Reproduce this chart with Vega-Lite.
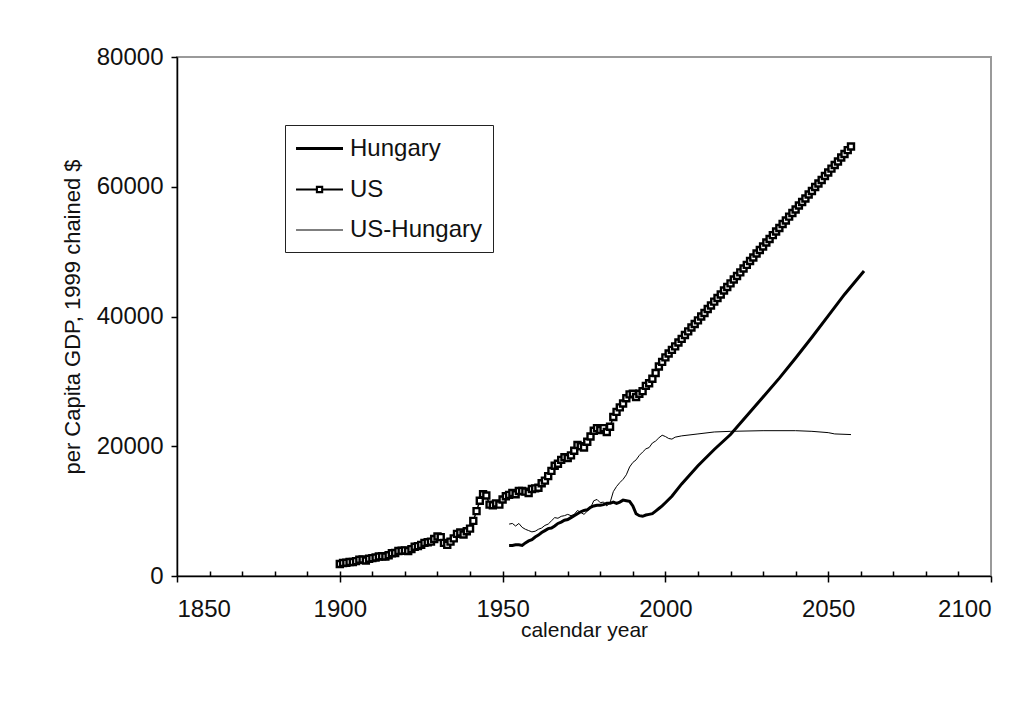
{
  "$schema": "https://vega.github.io/schema/vega-lite/v6.json",
  "width": 814,
  "height": 519,
  "autosize": "none",
  "padding": {"left": 177, "top": 57, "right": 38, "bottom": 143},
  "background": "white",
  "config": {
    "view": {"stroke": "#9a9a9a", "strokeWidth": 2},
    "font": "Liberation Sans",
    "axis": {"domainColor": "black", "tickColor": "black", "labelColor": "#111111", "titleColor": "#111111", "labelFont": "Liberation Sans", "titleFont": "Liberation Sans", "titleFontWeight": "normal", "grid": false}
  },
  "data": {"values": [
    {"series":"US","year":1900,"gdp":1850},{"series":"US","year":1901,"gdp":2000},{"series":"US","year":1902,"gdp":2050},{"series":"US","year":1903,"gdp":2150},{"series":"US","year":1904,"gdp":2150},{"series":"US","year":1905,"gdp":2300},{"series":"US","year":1906,"gdp":2500},{"series":"US","year":1907,"gdp":2550},{"series":"US","year":1908,"gdp":2400},{"series":"US","year":1909,"gdp":2650},
    {"series":"US","year":1910,"gdp":2750},{"series":"US","year":1911,"gdp":2850},{"series":"US","year":1912,"gdp":3000},{"series":"US","year":1913,"gdp":3050},{"series":"US","year":1914,"gdp":3000},{"series":"US","year":1915,"gdp":3200},{"series":"US","year":1916,"gdp":3500},{"series":"US","year":1917,"gdp":3550},{"series":"US","year":1918,"gdp":3850},{"series":"US","year":1919,"gdp":3900},
    {"series":"US","year":1920,"gdp":3950},{"series":"US","year":1921,"gdp":3850},{"series":"US","year":1922,"gdp":4150},{"series":"US","year":1923,"gdp":4500},{"series":"US","year":1924,"gdp":4600},{"series":"US","year":1925,"gdp":4800},{"series":"US","year":1926,"gdp":5100},{"series":"US","year":1927,"gdp":5200},{"series":"US","year":1928,"gdp":5300},{"series":"US","year":1929,"gdp":5700},
    {"series":"US","year":1930,"gdp":6100},{"series":"US","year":1931,"gdp":6000},{"series":"US","year":1932,"gdp":5100},{"series":"US","year":1933,"gdp":4800},{"series":"US","year":1934,"gdp":5300},{"series":"US","year":1935,"gdp":5800},{"series":"US","year":1936,"gdp":6500},{"series":"US","year":1937,"gdp":6700},{"series":"US","year":1938,"gdp":6400},{"series":"US","year":1939,"gdp":6900},
    {"series":"US","year":1940,"gdp":7300},{"series":"US","year":1941,"gdp":8500},{"series":"US","year":1942,"gdp":10000},{"series":"US","year":1943,"gdp":11600},{"series":"US","year":1944,"gdp":12600},{"series":"US","year":1945,"gdp":12400},{"series":"US","year":1946,"gdp":11000},{"series":"US","year":1947,"gdp":10900},{"series":"US","year":1948,"gdp":11200},{"series":"US","year":1949,"gdp":11000},
    {"series":"US","year":1950,"gdp":11800},{"series":"US","year":1951,"gdp":12300},{"series":"US","year":1952,"gdp":12500},{"series":"US","year":1953,"gdp":12800},{"series":"US","year":1954,"gdp":12600},{"series":"US","year":1955,"gdp":13100},{"series":"US","year":1956,"gdp":13100},{"series":"US","year":1957,"gdp":13000},{"series":"US","year":1958,"gdp":12800},{"series":"US","year":1959,"gdp":13400},
    {"series":"US","year":1960,"gdp":13500},{"series":"US","year":1961,"gdp":13600},{"series":"US","year":1962,"gdp":14300},{"series":"US","year":1963,"gdp":14700},{"series":"US","year":1964,"gdp":15400},{"series":"US","year":1965,"gdp":16200},{"series":"US","year":1966,"gdp":17000},{"series":"US","year":1967,"gdp":17300},{"series":"US","year":1968,"gdp":17900},{"series":"US","year":1969,"gdp":18300},
    {"series":"US","year":1970,"gdp":18200},{"series":"US","year":1971,"gdp":18600},{"series":"US","year":1972,"gdp":19300},{"series":"US","year":1973,"gdp":20200},{"series":"US","year":1974,"gdp":20000},{"series":"US","year":1975,"gdp":19800},{"series":"US","year":1976,"gdp":20700},{"series":"US","year":1977,"gdp":21500},{"series":"US","year":1978,"gdp":22400},{"series":"US","year":1979,"gdp":22800},
    {"series":"US","year":1980,"gdp":22500},{"series":"US","year":1981,"gdp":22800},{"series":"US","year":1982,"gdp":22200},{"series":"US","year":1983,"gdp":23000},{"series":"US","year":1984,"gdp":24500},{"series":"US","year":1985,"gdp":25300},{"series":"US","year":1986,"gdp":26000},{"series":"US","year":1987,"gdp":26600},{"series":"US","year":1988,"gdp":27400},{"series":"US","year":1989,"gdp":28000},
    {"series":"US","year":1990,"gdp":28100},{"series":"US","year":1991,"gdp":27600},{"series":"US","year":1992,"gdp":28100},{"series":"US","year":1993,"gdp":28500},{"series":"US","year":1994,"gdp":29300},{"series":"US","year":1995,"gdp":29700},{"series":"US","year":1996,"gdp":30400},{"series":"US","year":1997,"gdp":31300},{"series":"US","year":1998,"gdp":32300},{"series":"US","year":1999,"gdp":33000},
    {"series":"US","year":2000,"gdp":33700},{"series":"US","year":2001,"gdp":34300},{"series":"US","year":2002,"gdp":34850},{"series":"US","year":2003,"gdp":35400},{"series":"US","year":2004,"gdp":36000},{"series":"US","year":2005,"gdp":36550},{"series":"US","year":2006,"gdp":37150},{"series":"US","year":2007,"gdp":37700},{"series":"US","year":2008,"gdp":38300},{"series":"US","year":2009,"gdp":38850},
    {"series":"US","year":2010,"gdp":39400},{"series":"US","year":2011,"gdp":40000},{"series":"US","year":2012,"gdp":40550},{"series":"US","year":2013,"gdp":41150},{"series":"US","year":2014,"gdp":41700},{"series":"US","year":2015,"gdp":42300},{"series":"US","year":2016,"gdp":42850},{"series":"US","year":2017,"gdp":43400},{"series":"US","year":2018,"gdp":44000},{"series":"US","year":2019,"gdp":44550},
    {"series":"US","year":2020,"gdp":45100},{"series":"US","year":2021,"gdp":45700},{"series":"US","year":2022,"gdp":46250},{"series":"US","year":2023,"gdp":46800},{"series":"US","year":2024,"gdp":47400},{"series":"US","year":2025,"gdp":47950},{"series":"US","year":2026,"gdp":48550},{"series":"US","year":2027,"gdp":49100},{"series":"US","year":2028,"gdp":49700},{"series":"US","year":2029,"gdp":50250},
    {"series":"US","year":2030,"gdp":50800},{"series":"US","year":2031,"gdp":51400},{"series":"US","year":2032,"gdp":51950},{"series":"US","year":2033,"gdp":52550},{"series":"US","year":2034,"gdp":53100},{"series":"US","year":2035,"gdp":53650},{"series":"US","year":2036,"gdp":54250},{"series":"US","year":2037,"gdp":54800},{"series":"US","year":2038,"gdp":55400},{"series":"US","year":2039,"gdp":55950},
    {"series":"US","year":2040,"gdp":56500},{"series":"US","year":2041,"gdp":57100},{"series":"US","year":2042,"gdp":57650},{"series":"US","year":2043,"gdp":58200},{"series":"US","year":2044,"gdp":58800},{"series":"US","year":2045,"gdp":59350},{"series":"US","year":2046,"gdp":59950},{"series":"US","year":2047,"gdp":60500},{"series":"US","year":2048,"gdp":61050},{"series":"US","year":2049,"gdp":61650},
    {"series":"US","year":2050,"gdp":62200},{"series":"US","year":2051,"gdp":62800},{"series":"US","year":2052,"gdp":63350},{"series":"US","year":2053,"gdp":63900},{"series":"US","year":2054,"gdp":64500},{"series":"US","year":2055,"gdp":65050},{"series":"US","year":2056,"gdp":65650},{"series":"US","year":2057,"gdp":66200},
    {"series":"Hungary","year":1952,"gdp":4700},{"series":"Hungary","year":1953,"gdp":4700},{"series":"Hungary","year":1954,"gdp":4800},{"series":"Hungary","year":1955,"gdp":4800},{"series":"Hungary","year":1956,"gdp":4700},{"series":"Hungary","year":1957,"gdp":5100},{"series":"Hungary","year":1958,"gdp":5400},{"series":"Hungary","year":1959,"gdp":5600},
    {"series":"Hungary","year":1960,"gdp":6000},{"series":"Hungary","year":1961,"gdp":6300},{"series":"Hungary","year":1962,"gdp":6700},{"series":"Hungary","year":1963,"gdp":7000},{"series":"Hungary","year":1964,"gdp":7300},{"series":"Hungary","year":1965,"gdp":7400},{"series":"Hungary","year":1966,"gdp":7700},{"series":"Hungary","year":1967,"gdp":8100},{"series":"Hungary","year":1968,"gdp":8300},{"series":"Hungary","year":1969,"gdp":8600},
    {"series":"Hungary","year":1970,"gdp":8700},{"series":"Hungary","year":1971,"gdp":9000},{"series":"Hungary","year":1972,"gdp":9300},{"series":"Hungary","year":1973,"gdp":9600},{"series":"Hungary","year":1974,"gdp":9900},{"series":"Hungary","year":1975,"gdp":10100},{"series":"Hungary","year":1976,"gdp":10200},{"series":"Hungary","year":1977,"gdp":10600},{"series":"Hungary","year":1978,"gdp":10800},{"series":"Hungary","year":1979,"gdp":10900},
    {"series":"Hungary","year":1980,"gdp":10900},{"series":"Hungary","year":1981,"gdp":11000},{"series":"Hungary","year":1982,"gdp":11200},{"series":"Hungary","year":1983,"gdp":11200},{"series":"Hungary","year":1984,"gdp":11400},{"series":"Hungary","year":1985,"gdp":11200},{"series":"Hungary","year":1986,"gdp":11400},{"series":"Hungary","year":1987,"gdp":11700},{"series":"Hungary","year":1988,"gdp":11600},{"series":"Hungary","year":1989,"gdp":11500},
    {"series":"Hungary","year":1990,"gdp":10800},{"series":"Hungary","year":1991,"gdp":9600},{"series":"Hungary","year":1992,"gdp":9300},{"series":"Hungary","year":1993,"gdp":9200},{"series":"Hungary","year":1994,"gdp":9400},{"series":"Hungary","year":1995,"gdp":9500},{"series":"Hungary","year":1996,"gdp":9600},{"series":"Hungary","year":1997,"gdp":10000},{"series":"Hungary","year":1998,"gdp":10400},{"series":"Hungary","year":1999,"gdp":10800},
    {"series":"Hungary","year":2000,"gdp":11300},{"series":"Hungary","year":2002,"gdp":12300},{"series":"Hungary","year":2005,"gdp":14200},{"series":"Hungary","year":2010,"gdp":17000},{"series":"Hungary","year":2015,"gdp":19500},{"series":"Hungary","year":2020,"gdp":21800},{"series":"Hungary","year":2025,"gdp":24700},{"series":"Hungary","year":2030,"gdp":27600},{"series":"Hungary","year":2035,"gdp":30500},{"series":"Hungary","year":2040,"gdp":33600},{"series":"Hungary","year":2045,"gdp":36800},{"series":"Hungary","year":2050,"gdp":40100},{"series":"Hungary","year":2055,"gdp":43400},{"series":"Hungary","year":2061,"gdp":47000},
    {"series":"US-Hungary","year":1952,"gdp":8000},{"series":"US-Hungary","year":1953,"gdp":8100},{"series":"US-Hungary","year":1954,"gdp":7700},{"series":"US-Hungary","year":1955,"gdp":8100},{"series":"US-Hungary","year":1956,"gdp":7500},{"series":"US-Hungary","year":1957,"gdp":7200},{"series":"US-Hungary","year":1958,"gdp":7000},{"series":"US-Hungary","year":1959,"gdp":6800},
    {"series":"US-Hungary","year":1960,"gdp":6900},{"series":"US-Hungary","year":1961,"gdp":7200},{"series":"US-Hungary","year":1962,"gdp":7400},{"series":"US-Hungary","year":1963,"gdp":7800},{"series":"US-Hungary","year":1964,"gdp":8000},{"series":"US-Hungary","year":1965,"gdp":8500},{"series":"US-Hungary","year":1966,"gdp":9000},{"series":"US-Hungary","year":1967,"gdp":8900},{"series":"US-Hungary","year":1968,"gdp":9200},{"series":"US-Hungary","year":1969,"gdp":9300},
    {"series":"US-Hungary","year":1970,"gdp":9500},{"series":"US-Hungary","year":1971,"gdp":9300},{"series":"US-Hungary","year":1972,"gdp":9500},{"series":"US-Hungary","year":1973,"gdp":10100},{"series":"US-Hungary","year":1974,"gdp":9800},{"series":"US-Hungary","year":1975,"gdp":9500},{"series":"US-Hungary","year":1976,"gdp":10000},{"series":"US-Hungary","year":1977,"gdp":10500},{"series":"US-Hungary","year":1978,"gdp":11600},{"series":"US-Hungary","year":1979,"gdp":11800},
    {"series":"US-Hungary","year":1980,"gdp":11300},{"series":"US-Hungary","year":1981,"gdp":11400},{"series":"US-Hungary","year":1982,"gdp":10800},{"series":"US-Hungary","year":1983,"gdp":11300},{"series":"US-Hungary","year":1984,"gdp":13000},{"series":"US-Hungary","year":1985,"gdp":13800},{"series":"US-Hungary","year":1986,"gdp":14400},{"series":"US-Hungary","year":1987,"gdp":14900},{"series":"US-Hungary","year":1988,"gdp":15600},{"series":"US-Hungary","year":1989,"gdp":16800},
    {"series":"US-Hungary","year":1990,"gdp":17500},{"series":"US-Hungary","year":1991,"gdp":17900},{"series":"US-Hungary","year":1992,"gdp":18600},{"series":"US-Hungary","year":1993,"gdp":19100},{"series":"US-Hungary","year":1994,"gdp":19600},{"series":"US-Hungary","year":1995,"gdp":19800},{"series":"US-Hungary","year":1996,"gdp":20500},{"series":"US-Hungary","year":1997,"gdp":20800},{"series":"US-Hungary","year":1998,"gdp":21300},{"series":"US-Hungary","year":1999,"gdp":21700},
    {"series":"US-Hungary","year":2000,"gdp":21500},{"series":"US-Hungary","year":2001,"gdp":21200},{"series":"US-Hungary","year":2002,"gdp":21100},{"series":"US-Hungary","year":2003,"gdp":21400},{"series":"US-Hungary","year":2005,"gdp":21600},{"series":"US-Hungary","year":2010,"gdp":21900},{"series":"US-Hungary","year":2015,"gdp":22200},{"series":"US-Hungary","year":2020,"gdp":22300},{"series":"US-Hungary","year":2030,"gdp":22400},{"series":"US-Hungary","year":2040,"gdp":22400},{"series":"US-Hungary","year":2045,"gdp":22300},{"series":"US-Hungary","year":2050,"gdp":22100},{"series":"US-Hungary","year":2052,"gdp":21900},{"series":"US-Hungary","year":2057,"gdp":21800}
  ]},
  "resolve": {"axis": {"x": "independent"}},
  "layer": [
    {
      "transform": [{"filter": "datum.series === 'Hungary'"}],
      "mark": {"type": "line", "color": "black", "strokeWidth": 3, "strokeJoin": "miter"},
      "encoding": {
        "x": {"field": "year", "type": "quantitative", "scale": {"domain": [1850, 2100], "nice": false, "zero": false},
          "axis": {"orient": "bottom", "title": "calendar year", "values": [1850, 1900, 1950, 2000, 2050, 2100], "format": "d", "tickSize": 6, "labelPadding": 15, "labelFontSize": 24, "titleFontSize": 21, "titlePadding": -2, "domainWidth": 1.5, "tickWidth": 1.5}},
        "y": {"field": "gdp", "type": "quantitative", "scale": {"domain": [0, 80000], "nice": false},
          "axis": {"title": "per Capita GDP, 1999 chained $", "values": [0, 20000, 40000, 60000, 80000], "format": "d", "tickSize": 6, "labelPadding": 8, "labelFontSize": 24, "titleFontSize": 22, "titlePadding": 12, "domainWidth": 1.5, "tickWidth": 1.5}}
      }
    },
    {
      "transform": [{"filter": "datum.series === 'US-Hungary'"}],
      "mark": {"type": "line", "color": "black", "strokeWidth": 1},
      "encoding": {
        "x": {"field": "year", "type": "quantitative", "axis": null},
        "y": {"field": "gdp", "type": "quantitative"}
      }
    },
    {
      "transform": [{"filter": "datum.series === 'US'"}],
      "mark": {"type": "line", "color": "black", "strokeWidth": 1.5},
      "encoding": {
        "x": {"field": "year", "type": "quantitative", "axis": null},
        "y": {"field": "gdp", "type": "quantitative"}
      }
    },
    {
      "transform": [{"filter": "datum.series === 'US'"}],
      "mark": {"type": "point", "shape": "square", "size": 36, "filled": true, "fill": "white", "stroke": "black", "strokeWidth": 2.4, "opacity": 1},
      "encoding": {
        "x": {"field": "year", "type": "quantitative", "axis": null},
        "y": {"field": "gdp", "type": "quantitative"}
      }
    },
    {
      "mark": {"type": "point", "opacity": 0, "filled": false, "color": "black"},
      "encoding": {
        "x": {"field": "year", "type": "quantitative",
          "axis": {"orient": "bottom", "values": [1860, 1870, 1880, 1890, 1900, 1910, 1920, 1930, 1940, 1950, 1960, 1970, 1980, 1990, 2000, 2010, 2020, 2030, 2040, 2050, 2060, 2070, 2080, 2090], "labels": false, "domain": false, "tickSize": -5, "tickWidth": 1.5, "title": null}},
        "y": {"field": "gdp", "type": "quantitative"},
        "shape": {"field": "series", "type": "nominal",
          "scale": {"domain": ["Hungary", "US", "US-Hungary"], "range": ["M-1.04,0H2.875", "M-1.04,0H0.7M1.14,0H2.875M0.7,-0.22H1.14V0.22H0.7Z", "M-1.04,0H2.875"]},
          "legend": {"title": null, "orient": "none", "legendX": 108, "legendY": 68, "symbolSize": 576, "symbolOpacity": 1, "symbolFillColor": "white", "symbolStrokeColor": "black", "labelFontSize": 24, "labelColor": "#111111", "labelFont": "Liberation Sans", "labelOffset": 28, "rowPadding": 15, "padding": 10, "strokeColor": "#222222", "fillColor": "white"}},
        "strokeWidth": {"field": "series", "type": "nominal",
          "scale": {"domain": ["Hungary", "US", "US-Hungary"], "range": [3, 1.2, 1]},
          "legend": {"title": null, "orient": "none", "legendX": 108, "legendY": 68, "symbolSize": 576, "symbolOpacity": 1, "symbolFillColor": "white", "symbolStrokeColor": "black", "labelFontSize": 24, "labelColor": "#111111", "labelFont": "Liberation Sans", "labelOffset": 28, "rowPadding": 15, "padding": 10, "strokeColor": "#222222", "fillColor": "white"}}
      }
    }
  ]
}
